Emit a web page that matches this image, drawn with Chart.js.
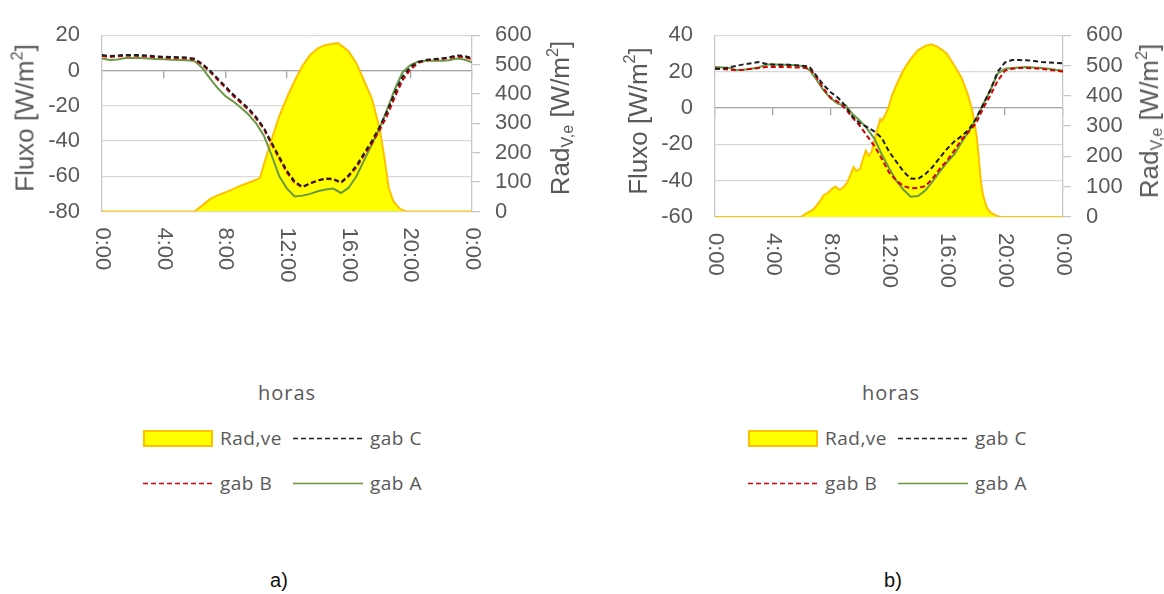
<!DOCTYPE html>
<html lang="pt">
<head>
<meta charset="utf-8">
<title>Fluxo e radiação</title>
<script src="https://cdn.jsdelivr.net/npm/chart.js@4.4.1/dist/chart.umd.min.js"></script>
<style>
  body { margin: 0; background: #fff; }
  #figura { position: relative; width: 1164px; height: 594px; overflow: hidden; font-family: "Liberation Sans", Arial, sans-serif; }
  canvas { position: absolute; top: 0; }
  .titulo-y { position: absolute; white-space: nowrap; color: #595959; font-size: 26px;
              transform: translate(-50%, -50%) rotate(-90deg); }
  .titulo-y sub { font-size: 0.62em; vertical-align: -0.25em; }
  .titulo-y sup { font-size: 0.62em; vertical-align: 0.7em; line-height: 0; }
  .horas { position: absolute; transform: translate(-50%, -50%); font-family: "Open Sans", sans-serif;
           font-size: 20px; letter-spacing: 1px; color: #595959; }
  .item { position: absolute; display: flex; align-items: center; gap: 7px; transform: translateY(-50%);
          font-family: "Open Sans", sans-serif; font-size: 19px; letter-spacing: 0.5px; color: #595959; white-space: nowrap; }
  .item svg { display: block; }
  .letra { position: absolute; transform: translate(-50%, -50%); font-size: 20px; color: #111; }
</style>
</head>
<body>
<div id="figura">
  <canvas id="graficoA" width="580" height="300" style="left:0"></canvas>
  <canvas id="graficoB" width="574" height="300" style="left:590px"></canvas>

  <div class="titulo-y" style="left:25px;top:118px">Fluxo [W/m<sup>2</sup>]</div>
  <div class="titulo-y" style="left:561px;top:118px">Rad<sub>V,e</sub> [W/m<sup>2</sup>]</div>
  <div class="titulo-y" style="left:638px;top:121px">Fluxo [W/m<sup>2</sup>]</div>
  <div class="titulo-y" style="left:1150px;top:121px">Rad<sub>V,e</sub> [W/m<sup>2</sup>]</div>

  <div class="horas" style="left:287px;top:392px">horas</div>
  <div class="horas" style="left:891px;top:392px">horas</div>

  <div id="legendaA"></div>
  <div id="legendaB"></div>

  <div class="letra" style="left:279px;top:580px">a)</div>
  <div class="letra" style="left:893px;top:580px">b)</div>
</div>

<script>
// horas do dia (passo de meia hora) usadas pelas curvas de fluxo
const horas = [0, 0.5, 1, 1.5, 2, 2.5, 3, 3.5, 4, 4.5, 5, 5.5, 6, 6.5, 7, 7.5, 8, 8.5, 9, 9.5,
  10, 10.5, 11, 11.5, 12, 12.5, 13, 13.5, 14, 14.5, 15, 15.5, 16, 16.5, 17, 17.5, 18, 18.5, 19, 19.5,
  20, 20.5, 21, 21.5, 22, 22.5, 23, 23.5, 24];

// marcas do eixo horizontal
const horasTicks = [0, 4, 8, 12, 16, 20, 24];
const rotulosHoras = ['0:00', '4:00', '8:00', '12:00', '16:00', '20:00', '0:00'];

// ---- a) ----
const gabC_a = [8.8, 8.2, 8.5, 8.8, 8.8, 8.7, 8.4, 8.0, 7.8, 7.6, 7.5, 7.3, 6.6, 3.8, 0, -4.5, -9, -13.5, -17.5, -21.5,
  -26.5, -32.5, -41, -49, -57, -63, -66, -64, -62.5, -61.3, -61.5, -63.5, -59.5, -54, -47, -40, -32, -23, -12.5, -3.5,
  2, 4.8, 6, 6.5, 6.8, 7.5, 8.5, 8.2, 7];
const gabB_a = [8.2, 7.6, 8.0, 8.3, 8.3, 8.2, 7.9, 7.5, 7.3, 7.1, 7.0, 6.8, 6.1, 3.2, -0.8, -5.3, -9.8, -14.3, -18.3, -22.3,
  -27.3, -33.3, -41.8, -50, -58, -63.8, -66.3, -64, -62.3, -61.5, -61.8, -63.8, -60, -55, -48, -41.5, -34, -25.5, -15, -5.5,
  0.5, 4.2, 5.6, 6.2, 6.5, 7, 7.8, 7.6, 6.5];
const gabA_a = [6.8, 6.0, 6.2, 7.0, 7.0, 7.0, 6.8, 6.5, 6.3, 6.1, 6.0, 5.8, 5.3, 1.5, -4.5, -10, -14.5, -17.5, -21, -25,
  -30, -37, -48, -60, -67, -71.5, -71, -70, -68.5, -67.5, -67, -69.5, -66.5, -60, -51, -42, -33, -22, -10.5, -1,
  3, 5, 5.5, 5.5, 5.5, 5.8, 6.8, 6.2, 4.6];
const radHoras_a = [0, 6, 6.5, 7, 7.5, 8, 8.5, 9, 9.5, 10, 10.25, 10.5, 11, 11.5, 12, 12.5, 13, 13.5, 14, 14.5,
  15, 15.3, 15.6, 16, 16.5, 17, 17.5, 18, 18.3, 18.6, 18.9, 19.3, 19.7, 24];
const rad_a = [0, 0, 20, 42, 55, 65, 76, 88, 98, 108, 115, 160, 245, 325, 388, 445, 495, 533, 555, 567,
  571, 573, 562, 545, 505, 445, 385, 285, 190, 80, 35, 10, 0, 0];

// ---- b) ----
const gabC_b = [21.6, 21.6, 22.3, 23.2, 24, 24.6, 25.2, 24.3, 23.8, 23.8, 23.7, 23.5, 23.2, 22.8, 17.6, 12.5, 8.5, 5.5, 1, -5,
  -8.5, -10.5, -13, -16.5, -24, -29.5, -35, -38.8, -39, -36.5, -32.5, -27.5, -22.5, -18.5, -15.5, -12, -6, 2, 10, 20,
  25, 26.3, 26.3, 26.2, 25.8, 25.3, 25, 24.8, 24.5];
const gabB_b = [21.6, 21.5, 21, 20.7, 21, 21.5, 22, 22.5, 22.5, 22.5, 22.5, 22.3, 22.2, 21.8, 17, 10.5, 5.5, 3.2, -0.5, -5.5,
  -10, -15.5, -21, -28, -35.5, -40, -43, -44.2, -44, -43, -39, -33.5, -29, -23.5, -17.5, -13, -8.5, 0, 7, 15,
  20.5, 21.5, 22, 22, 21.8, 21.5, 21, 20.5, 20];
const gabA_b = [22.5, 22.3, 22, 20.8, 21, 21.5, 22.2, 23.8, 24, 23.8, 23.7, 23.5, 23, 21, 15.5, 9.5, 5, 2.2, 1.5, -3.5,
  -7, -11.5, -17, -25.5, -33, -40, -45, -48.8, -48.5, -45.5, -40.5, -35, -30, -25.5, -19, -13, -6, 2, 10, 19,
  21.5, 22, 22.3, 22.5, 22.2, 22, 21.5, 21, 20.6];
const radHoras_b = [0, 5.9, 6.3, 6.8, 7.2, 7.5, 7.8, 8.1, 8.3, 8.6, 8.9, 9.1, 9.35, 9.55, 9.75, 10, 10.2, 10.4, 10.6, 10.8,
  11, 11.2, 11.4, 11.5, 11.7, 11.95, 12.2, 12.5, 13, 13.5, 14, 14.5, 14.9, 15.3, 15.7, 16, 16.5, 17, 17.4, 17.7,
  17.9, 18.05, 18.2, 18.35, 18.5, 18.75, 19, 19.4, 19.7, 24];
const rad_b = [0, 0, 12, 25, 50, 72, 80, 95, 100, 90, 100, 112, 140, 165, 152, 158, 190, 219, 202, 215,
  255, 290, 323, 316, 333, 360, 400, 435, 485, 522, 550, 565, 570, 563, 550, 538, 500, 460, 410, 360,
  310, 265, 190, 110, 70, 30, 15, 4, 0, 0];

const COR_TEXTO = '#595959';
const FONTE = '"Liberation Sans", Arial, sans-serif';

const cores = { rad: '#ffff00', radBorda: '#ffc000', gabC: '#1e1e1e', gabB: '#d40000', gabA: '#6a9944' };

// rótulos do eixo x escritos na vertical, de cima para baixo
const rotulosEixoX = {
  id: 'rotulosEixoX',
  afterDraw(chart) {
    const { ctx, chartArea, scales } = chart;
    ctx.save();
    ctx.font = '22px ' + FONTE;
    ctx.fillStyle = COR_TEXTO;
    ctx.textAlign = 'left';
    ctx.textBaseline = 'middle';
    horasTicks.forEach((h, i) => {
      ctx.save();
      ctx.translate(scales.x.getPixelForValue(h), chartArea.bottom + 16);
      ctx.rotate(Math.PI / 2);
      ctx.fillText(rotulosHoras[i], 0, 0);
      ctx.restore();
    });
    ctx.restore();
  }
};

function pontos(xs, ys) {
  return xs.map((x, i) => ({ x: x, y: ys[i] }));
}

function montarGrafico(id, serie, eixo) {
  return new Chart(document.getElementById(id), {
    type: 'line',
    data: {
      datasets: [
        { label: 'gab C', data: pontos(horas, serie.gabC), borderColor: cores.gabC, borderDash: [5, 3], borderWidth: 2, order: 1 },
        { label: 'gab B', data: pontos(horas, serie.gabB), borderColor: cores.gabB, borderDash: [5, 3], borderWidth: 2, order: 2 },
        { label: 'gab A', data: pontos(horas, serie.gabA), borderColor: cores.gabA, borderWidth: 2, order: 3 },
        { label: 'Rad,ve', data: pontos(serie.radHoras, serie.rad), yAxisID: 'y1', fill: 'origin',
          backgroundColor: cores.rad, borderColor: cores.radBorda, borderWidth: 2, order: 4 }
      ]
    },
    options: {
      responsive: false,
      animation: false,
      layout: { padding: { top: 24, bottom: 300 - eixo.base, left: 0, right: 0 } },
      elements: { point: { radius: 0 }, line: { tension: 0 } },
      plugins: { legend: { display: false }, tooltip: { enabled: false } },
      scales: {
        x: {
          type: 'linear', min: 0, max: 24, position: { y: 0 },
          ticks: { display: false, stepSize: 4 },
          grid: { drawOnChartArea: false, drawTicks: true, tickLength: 7, color: '#a6a6a6', lineWidth: 1.3 },
          border: { color: '#a6a6a6', width: 1.3 }
        },
        y: {
          min: eixo.min, max: eixo.max,
          ticks: { stepSize: 20, autoSkip: false, padding: 22, color: COR_TEXTO, font: { family: FONTE, size: 22 } },
          grid: { color: '#d9d9d9', lineWidth: 1.3, drawTicks: false },
          border: { color: '#c8c8c8', width: 1.3 },
          afterFit(s) { s.width = eixo.esq; }
        },
        y1: {
          position: 'right', min: 0, max: 600,
          ticks: { stepSize: 100, autoSkip: false, padding: 15, color: COR_TEXTO, font: { family: FONTE, size: 22 } },
          grid: { drawOnChartArea: false, drawTicks: true, tickLength: 8, color: '#c8c8c8', lineWidth: 1.3 },
          border: { color: '#c8c8c8', width: 1.3 },
          afterFit(s) { s.width = eixo.dir; }
        }
      }
    },
    plugins: [rotulosEixoX]
  });
}

montarGrafico('graficoA',
  { gabC: gabC_a, gabB: gabB_a, gabA: gabA_a, radHoras: radHoras_a, rad: rad_a },
  { min: -80, max: 20, esq: 102, dir: 108, base: 211.5 });

montarGrafico('graficoB',
  { gabC: gabC_b, gabB: gabB_b, gabA: gabA_b, radHoras: radHoras_b, rad: rad_b },
  { min: -60, max: 40, esq: 125, dir: 101, base: 217 });

// legenda em duas linhas, como no gráfico original
const itensLegenda = [
  { texto: 'Rad,ve', tipo: 'caixa', col: 0, lin: 0 },
  { texto: 'gab C', tipo: 'tracejado', cor: cores.gabC, col: 1, lin: 0 },
  { texto: 'gab B', tipo: 'tracejado', cor: cores.gabB, col: 0, lin: 1 },
  { texto: 'gab A', tipo: 'linha', cor: cores.gabA, col: 1, lin: 1 }
];

function amostra(item) {
  if (item.tipo === 'caixa') {
    return '<svg width="70" height="17"><rect x="1" y="1" width="68" height="15" fill="' + cores.rad +
      '" stroke="' + cores.radBorda + '" stroke-width="2"/></svg>';
  }
  const traco = item.tipo === 'tracejado' ? ' stroke-dasharray="5,3"' : '';
  return '<svg width="70" height="17"><line x1="0" y1="8.5" x2="70" y2="8.5" stroke="' + item.cor +
    '" stroke-width="1.6"' + traco + '/></svg>';
}

function montarLegenda(id, x0) {
  const caixa = document.getElementById(id);
  itensLegenda.forEach(item => {
    const el = document.createElement('div');
    el.className = 'item';
    el.style.left = (x0 + item.col * 150) + 'px';
    el.style.top = (438 + item.lin * 45) + 'px';
    el.innerHTML = amostra(item) + '<span>' + item.texto + '</span>';
    caixa.appendChild(el);
  });
}

montarLegenda('legendaA', 143);
montarLegenda('legendaB', 748);
</script>
</body>
</html>
